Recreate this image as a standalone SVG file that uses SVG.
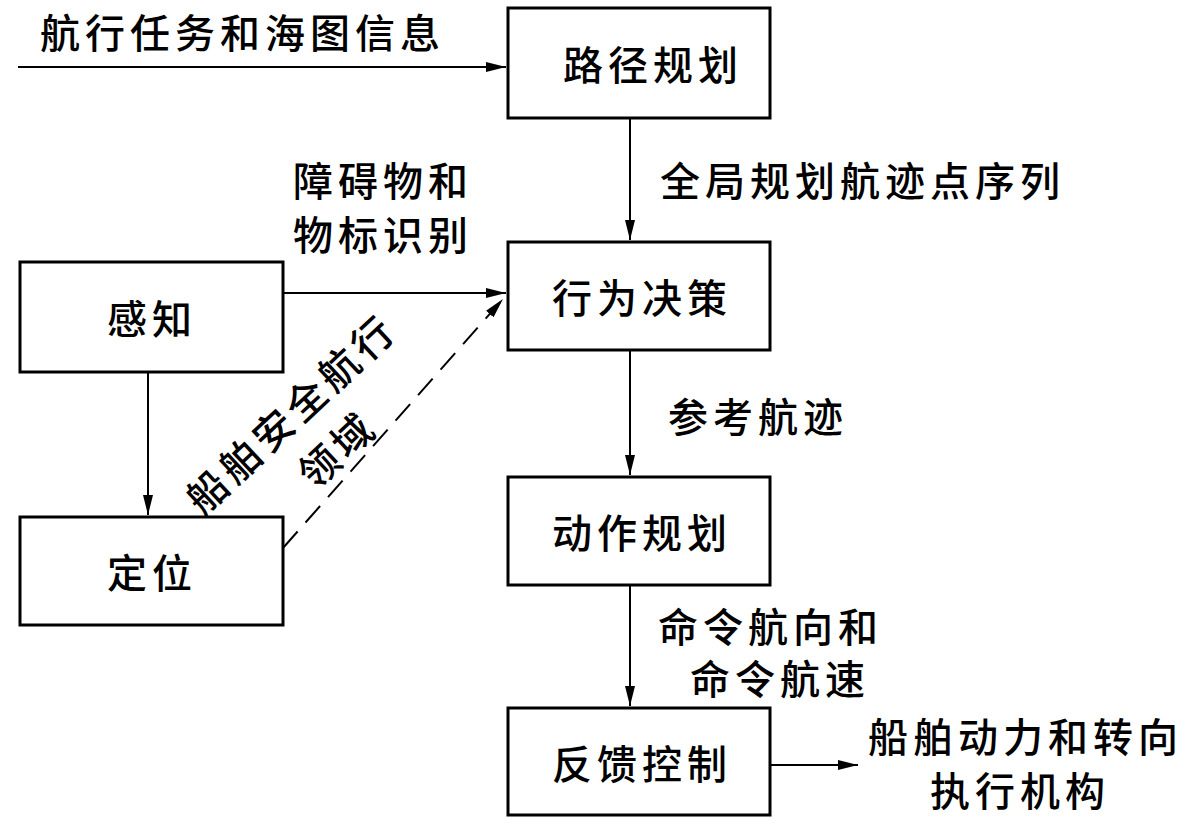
<svg xmlns="http://www.w3.org/2000/svg" width="1200" height="829" viewBox="0 0 1200 829">
<style>
.b{fill:#fff;stroke:#000;stroke-width:3}
.l{stroke:#000;stroke-width:2;fill:none}
text{font-family:"Noto Sans CJK SC","Noto Sans CJK JP",sans-serif;font-size:40px;letter-spacing:5px;font-weight:500;fill:#000}
.c{text-anchor:middle;dominant-baseline:central}
</style>
<defs><marker id="a" viewBox="0 0 20 10" refX="20" refY="5" markerWidth="20" markerHeight="10" markerUnits="userSpaceOnUse" orient="auto"><path d="M0,0L20,5L0,10z" fill="#000"/></marker></defs>
<rect width="1200" height="829" fill="#fff"/>
<g id="n1"><rect class="b" x="508" y="8" width="262" height="110"/><text class="c" x="653" y="63">路径规划</text></g>
<g id="n2"><rect class="b" x="508" y="242" width="262" height="108"/><text class="c" x="642" y="296">行为决策</text></g>
<g id="n3"><rect class="b" x="508" y="477" width="262" height="108"/><text class="c" x="642" y="531">动作规划</text></g>
<g id="n4"><rect class="b" x="508" y="708" width="262" height="107"/><text class="c" x="642" y="762">反馈控制</text></g>
<g id="n5"><rect class="b" x="20" y="262" width="263" height="110"/><text class="c" x="152" y="317">感知</text></g>
<g id="n6"><rect class="b" x="20" y="517" width="263" height="108"/><text class="c" x="152" y="571">定位</text></g>
<g id="edges">
<line class="l" x1="18" y1="67" x2="506" y2="67" marker-end="url(#a)"/>
<line class="l" x1="630" y1="118" x2="630" y2="240" marker-end="url(#a)"/>
<line class="l" x1="283" y1="293" x2="506" y2="293" marker-end="url(#a)"/>
<line class="l" x1="283" y1="548" x2="503" y2="299" stroke-dasharray="22,12" marker-end="url(#a)"/>
<line class="l" x1="148" y1="372" x2="148" y2="515" marker-end="url(#a)"/>
<line class="l" x1="630" y1="350" x2="630" y2="475" marker-end="url(#a)"/>
<line class="l" x1="630" y1="585" x2="630" y2="706" marker-end="url(#a)"/>
<line class="l" x1="770" y1="765" x2="858" y2="765" marker-end="url(#a)"/>
</g>
<g id="labels">
<text x="40" y="48">航行任务和海图信息</text>
<text x="660" y="196">全局规划航迹点序列</text>
<text x="293" y="196">障碍物和</text>
<text x="293" y="250">物标识别</text>
<text class="c" transform="translate(290,412) rotate(-43)">船舶安全航行</text>
<text class="c" transform="translate(336,448) rotate(-43)">领域</text>
<text x="668" y="432">参考航迹</text>
<text x="658" y="642">命令航向和</text>
<text x="690" y="694">命令航速</text>
<text x="868" y="752">船舶动力和转向</text>
<text x="930" y="806">执行机构</text>
</g>
</svg>
